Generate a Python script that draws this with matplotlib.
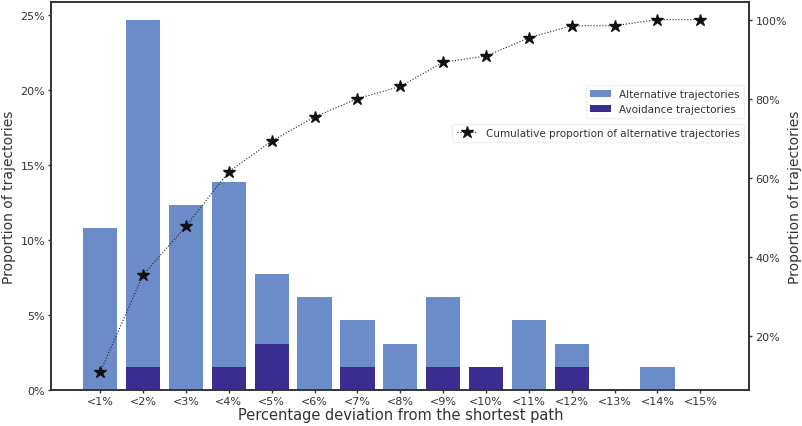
import numpy as np
import matplotlib
matplotlib.use("Agg")
import matplotlib.pyplot as plt
from matplotlib.ticker import PercentFormatter

# data (percent of 65 trajectories)
categories = ["<1%", "<2%", "<3%", "<4%", "<5%", "<6%", "<7%", "<8%",
              "<9%", "<10%", "<11%", "<12%", "<13%", "<14%", "<15%"]
alternative = [10.77, 24.62, 12.31, 13.85, 7.69, 6.15, 4.62, 3.08,
               6.15, 1.54, 4.62, 3.08, 0.0, 1.54, 0.0]
avoidance = [0.0, 1.54, 0.0, 1.54, 3.08, 0.0, 1.54, 0.0,
             1.54, 1.54, 0.0, 1.54, 0.0, 0.0, 0.0]
cumulative = [10.77, 35.38, 47.69, 61.54, 69.23, 75.38, 80.0, 83.08,
              89.23, 90.77, 95.38, 98.46, 98.46, 100.0, 100.0]

dark = "#333333"
plt.rcParams["font.family"] = "DejaVu Sans"
plt.rcParams["text.color"] = dark
plt.rcParams["axes.labelcolor"] = dark
plt.rcParams["xtick.color"] = dark
plt.rcParams["ytick.color"] = dark

fig, ax = plt.subplots(figsize=(8.03, 4.27), dpi=100)
x = np.arange(len(categories))

b1 = ax.bar(x, alternative, width=0.8, color="#6b8cc8", label="Alternative trajectories")
b2 = ax.bar(x, avoidance, width=0.8, color="#3b2d8f", label="Avoidance trajectories")
ax.set_xticks(x)
ax.set_xticklabels(categories, fontsize=8)
ax.tick_params(axis="y", labelsize=8)
ax.yaxis.set_major_formatter(PercentFormatter(decimals=0))
ax.set_ylabel("Proportion of trajectories", fontsize=10, labelpad=3)
ax.set_xlabel("Percentage deviation from the shortest path", fontsize=10.5, labelpad=1)

ax2 = ax.twinx()
line, = ax2.plot(x, cumulative, linestyle=":", color="#222222", linewidth=0.8,
                 marker="*", markersize=9, markerfacecolor="#111111",
                 markeredgecolor="#111111",
                 label="Cumulative proportion of alternative trajectories")
ax2.set_yticks([20, 40, 60, 80, 100])
ax2.yaxis.set_major_formatter(PercentFormatter(decimals=0))
ax2.tick_params(axis="y", labelsize=8)
ax2.set_ylabel("Proportion of trajectories", fontsize=10, labelpad=1)

for a in (ax, ax2):
    for s in a.spines.values():
        s.set_color(dark)
        s.set_linewidth(1.2)
    a.tick_params(length=2.5, width=1, pad=2)

leg1 = ax2.legend(handles=[b1, b2], loc="upper right", bbox_to_anchor=(1.0, 0.80),
                  fontsize=7.5, frameon=True, handlelength=2.0)
leg1.get_frame().set_edgecolor("#eeeeee")
ax2.add_artist(leg1)
leg2 = ax2.legend(handles=[line], loc="upper right", bbox_to_anchor=(1.0, 0.70),
                  fontsize=7.5, frameon=True, handlelength=2.0)
leg2.get_frame().set_edgecolor("#eeeeee")

fig.subplots_adjust(left=0.064, right=0.933, top=0.993, bottom=0.085)
fig.savefig("out.png", dpi=100)
